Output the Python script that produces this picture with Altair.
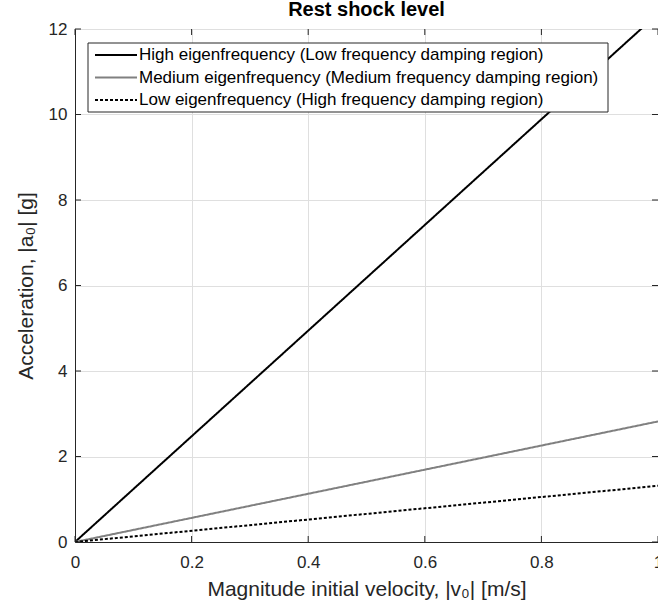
import altair as alt
import pandas as pd

# ---- data ----
title_text = "Rest shock level"
x_title = "Magnitude initial velocity, |v₀| [m/s]"
y_title = "Acceleration, |a₀| [g]"
series_names = [
    "High eigenfrequency (Low frequency damping region)",
    "Medium eigenfrequency (Medium frequency damping region)",
    "Low eigenfrequency (High frequency damping region)",
]
velocity = [0.0, 1.0]
accel_high = [0.0, 12.36]
accel_medium = [0.0, 2.82]
accel_low = [0.0, 1.315]
x_ticks = [0, 0.2, 0.4, 0.6, 0.8, 1.0]
y_ticks = [0, 2, 4, 6, 8, 10, 12]

series_colors = ["#000000", "#808080", "#000000"]
series_dashes = [[1, 0], [1, 0], [3, 2]]

FONT = "Liberation Sans"
AXC = "#262626"
W, H = 583, 513

rows = []
for name, vals in zip(series_names, [accel_high, accel_medium, accel_low]):
    for v, a in zip(velocity, vals):
        rows.append({"series": name, "v": v, "a": a})
df = pd.DataFrame(rows)

xscale = alt.Scale(domain=[0, 1], nice=False, zero=False)
yscale = alt.Scale(domain=[0, 12], nice=False, zero=False)
x_axis = alt.Axis(values=x_ticks, format="~g", title=x_title,
                  titleY=53, titleBaseline="alphabetic",
                  labelPadding=12, labelBaseline="top",
                  labelFlush=False, labelOverlap=False)
y_axis = alt.Axis(values=y_ticks, format="~g", title=y_title,
                  titleX=-43, titleY=H / 2, titleAngle=-90,
                  titleAlign="center", titleBaseline="alphabetic",
                  labelPadding=8, labelFlush=False, labelOverlap=False)

lines = alt.Chart(df).mark_line(clip=True, strokeWidth=2, strokeCap="butt").encode(
    x=alt.X("v:Q", scale=xscale, axis=x_axis),
    y=alt.Y("a:Q", scale=yscale, axis=y_axis),
    color=alt.Color("series:N", scale=alt.Scale(domain=series_names, range=series_colors), legend=None),
    strokeDash=alt.StrokeDash("series:N", scale=alt.Scale(domain=series_names, range=series_dashes), legend=None),
)

xt = pd.DataFrame({"v": x_ticks})
yt = pd.DataFrame({"a": y_ticks})
TL = 6
xt_bottom = alt.Chart(xt).mark_rule(color=AXC, strokeWidth=1).encode(
    x=alt.X("v:Q", scale=xscale, axis=x_axis), y=alt.value(H), y2=alt.value(H - TL))
xt_top = alt.Chart(xt).mark_rule(color=AXC, strokeWidth=1).encode(
    x=alt.X("v:Q", scale=xscale, axis=x_axis), y=alt.value(0), y2=alt.value(TL))
yt_left = alt.Chart(yt).mark_rule(color=AXC, strokeWidth=1).encode(
    y=alt.Y("a:Q", scale=yscale, axis=y_axis), x=alt.value(0), x2=alt.value(TL))
yt_right = alt.Chart(yt).mark_rule(color=AXC, strokeWidth=1).encode(
    y=alt.Y("a:Q", scale=yscale, axis=y_axis), x=alt.value(W - TL), x2=alt.value(W))

# ---- title (as text mark) ----
title_mark = alt.Chart(pd.DataFrame({"t": [title_text]})).mark_text(
    align="center", baseline="alphabetic", fontSize=20, fontWeight="bold",
    font=FONT, color="black").encode(
    x=alt.value(W / 2), y=alt.value(-13), text="t:N")

# ---- legend (drawn as marks) ----
leg_box = alt.Chart(pd.DataFrame({"k": [0]})).mark_rect(
    fill="white", stroke=AXC, strokeWidth=1).encode(
    x=alt.value(13), x2=alt.value(533), y=alt.value(14), y2=alt.value(83))

legend_layers = [leg_box]
for i, name in enumerate(series_names):
    yy = 26 + 22.5 * i
    ld = pd.DataFrame({"name": [name]})
    legend_layers.append(
        alt.Chart(ld).mark_rule(color=series_colors[i], strokeWidth=2,
                                strokeDash=series_dashes[i], strokeCap="butt").encode(
            x=alt.value(20), x2=alt.value(62), y=alt.value(yy)))
    legend_layers.append(
        alt.Chart(ld).mark_text(align="left", baseline="middle", fontSize=17,
                                font=FONT, color="black").encode(
            x=alt.value(64), y=alt.value(yy), text="name:N"))

chart = alt.layer(lines, xt_bottom, xt_top, yt_left, yt_right, title_mark,
                  *legend_layers).properties(
    width=W, height=H,
    autosize=alt.AutoSizeParams(type="none"),
    padding={"left": 75, "top": 29, "right": 0, "bottom": 66},
).configure_view(stroke=AXC, strokeWidth=1).configure_axis(
    labelFont=FONT, titleFont=FONT, labelFontSize=17, titleFontSize=21,
    labelColor=AXC, titleColor=AXC, titleFontWeight="normal",
    domainColor=AXC, domainWidth=1, ticks=False, tickSize=0,
    gridColor="#dfdfdf", gridWidth=1,
)

chart.save("out.html", embed_options={"renderer": "svg", "actions": False})
